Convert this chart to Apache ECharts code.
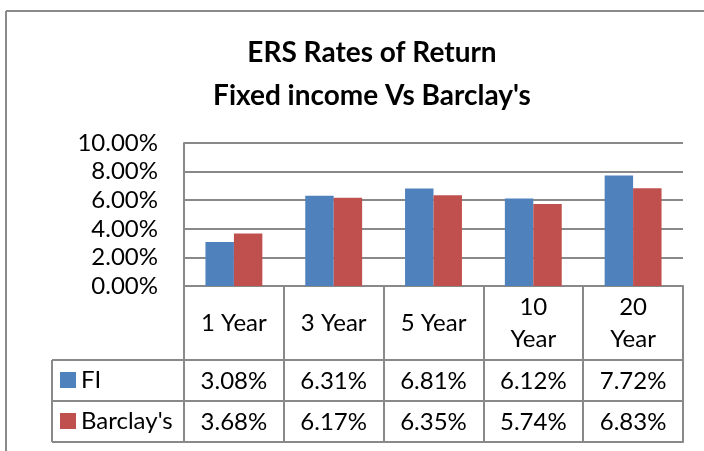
<!DOCTYPE html>
<html>
<head>
<meta charset="utf-8">
<script src="https://cdn.jsdelivr.net/npm/echarts@6/dist/echarts.min.js"></script>
<style>
html,body{margin:0;padding:0;background:#fff;}
#chart{width:704px;height:451px;}
</style>
</head>
<body>
<div id="chart"></div>
<script>
var categories = ['1 Year', '3 Year', '5 Year', '10 Year', '20 Year'];
var fiValues = [3.08, 6.31, 6.81, 6.12, 7.72];
var barclayValues = [3.68, 6.17, 6.35, 5.74, 6.83];
var seriesNames = ['FI', "Barclay's"];
var yTicks = [0, 2, 4, 6, 8, 10];

var FONT = 'Lato';
var GRID_COLOR = '#898989';
var BLUE = '#4F81BD';
var RED = '#C0504D';
var FS = 24;

// layout
var gridLeft = 184, gridRight = 21, gridTop = 143, axisY = 286;
var row1 = 360, row2 = 401, row3 = 442, legendLeft = 52;

var chart = echarts.init(document.getElementById('chart'));

function pct(v) { return v.toFixed(2) + '%'; }

var option = {
  backgroundColor: '#fff',
  animation: false,
  textStyle: { fontFamily: FONT },
  title: {
    text: 'ERS Rates of Return\nFixed income Vs Barclay\'s',
    left: 372,
    textAlign: 'center',
    top: 31,
    padding: 0,
    textStyle: { fontFamily: FONT, fontSize: 28, fontWeight: 'bold', color: '#000', lineHeight: 43 }
  },
  legend: {
    orient: 'vertical',
    left: 60,
    top: row1 + 8,
    padding: 0,
    itemWidth: 16,
    itemHeight: 16,
    itemGap: 17,
    icon: 'rect',
    data: seriesNames,
    textStyle: { fontFamily: FONT, fontSize: FS, color: '#000', lineHeight: 24 }
  },
  grid: { left: gridLeft, right: gridRight, top: gridTop, bottom: 451 - axisY },
  yAxis: {
    type: 'value',
    min: yTicks[0],
    max: yTicks[yTicks.length - 1],
    interval: yTicks[1] - yTicks[0],
    axisLine: { show: true, lineStyle: { color: GRID_COLOR, width: 2 } },
    axisTick: { show: false },
    splitLine: { show: true, lineStyle: { color: GRID_COLOR, width: 2 } },
    axisLabel: { fontFamily: FONT, fontSize: FS, color: '#000', margin: 26, formatter: function (v) { return pct(v); } }
  },
  xAxis: [
    {
      type: 'category', data: categories, position: 'bottom',
      axisLine: { show: true, lineStyle: { color: GRID_COLOR, width: 2 } },
      axisTick: { show: true, interval: 0, alignWithLabel: false, length: row3 - axisY, lineStyle: { color: GRID_COLOR, width: 2 } },
      axisLabel: {
        interval: 0, fontFamily: FONT, fontSize: FS, color: '#000', margin: 37, lineHeight: 32, verticalAlign: 'middle',
        formatter: function (v) { return v.length > 6 ? v.replace(' ', '\n') : v; }
      }
    },
    {
      type: 'category', data: categories, position: 'bottom', offset: row1 - axisY,
      axisLine: { show: true, lineStyle: { color: GRID_COLOR, width: 2 } },
      axisTick: { show: false },
      axisLabel: { interval: 0, fontFamily: FONT, fontSize: FS, color: '#000', margin: 21, verticalAlign: 'middle',
        formatter: function (v, i) { return pct(fiValues[i]); } }
    },
    {
      type: 'category', data: categories, position: 'bottom', offset: row2 - axisY,
      axisLine: { show: true, lineStyle: { color: GRID_COLOR, width: 2 } },
      axisTick: { show: false },
      axisLabel: { interval: 0, fontFamily: FONT, fontSize: FS, color: '#000', margin: 21, verticalAlign: 'middle',
        formatter: function (v, i) { return pct(barclayValues[i]); } }
    },
    {
      type: 'category', data: categories, position: 'bottom', offset: row3 - axisY,
      axisLine: { show: true, lineStyle: { color: GRID_COLOR, width: 2 } },
      axisTick: { show: false },
      axisLabel: { show: false }
    }
  ],
  series: [
    { name: seriesNames[0], type: 'bar', xAxisIndex: 0, data: fiValues, itemStyle: { color: BLUE }, barGap: '0%', barCategoryGap: '43%' },
    { name: seriesNames[1], type: 'bar', xAxisIndex: 0, data: barclayValues, itemStyle: { color: RED }, barGap: '0%', barCategoryGap: '43%' }
  ],
  graphic: [
    { type: 'line', shape: { x1: 6, y1: 11, x2: 704, y2: 11 }, style: { stroke: '#8a8a8a', lineWidth: 2 } },
    { type: 'line', shape: { x1: 6, y1: 11, x2: 6, y2: 451 }, style: { stroke: '#8a8a8a', lineWidth: 2 } },
    { type: 'line', shape: { x1: legendLeft, y1: row1, x2: gridLeft, y2: row1 }, style: { stroke: GRID_COLOR, lineWidth: 2 } },
    { type: 'line', shape: { x1: legendLeft, y1: row2, x2: gridLeft, y2: row2 }, style: { stroke: GRID_COLOR, lineWidth: 2 } },
    { type: 'line', shape: { x1: legendLeft, y1: row3, x2: gridLeft, y2: row3 }, style: { stroke: GRID_COLOR, lineWidth: 2 } },
    { type: 'line', shape: { x1: legendLeft, y1: row1, x2: legendLeft, y2: row3 }, style: { stroke: GRID_COLOR, lineWidth: 2 } }
  ]
};
chart.setOption(option);
</script>
</body>
</html>
